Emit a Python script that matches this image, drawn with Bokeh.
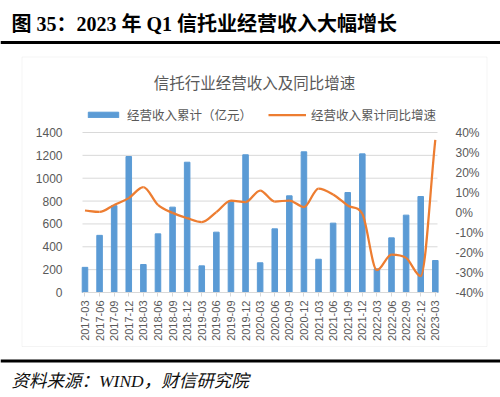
from math import pi
from bokeh.plotting import figure
from bokeh.models import (Range1d, LinearAxis, FixedTicker, PrintfTickFormatter, Label,
                          BoxAnnotation, Legend, LegendItem, ColumnDataSource)
from bokeh.embed import file_html
from bokeh.resources import INLINE

quarters = ["2017-03", "2017-06", "2017-09", "2017-12", "2018-03", "2018-06", "2018-09", "2018-12",
            "2019-03", "2019-06", "2019-09", "2019-12", "2020-03", "2020-06", "2020-09", "2020-12",
            "2021-03", "2021-06", "2021-09", "2021-12", "2022-03", "2022-06", "2022-09", "2022-12",
            "2023-03"]
revenue = [220, 500, 760, 1190, 245, 513, 747, 1140, 233, 528, 799, 1205, 260, 557, 846, 1231,
           291, 607, 875, 1213, 207, 478, 677, 840, 280]
growth = [1.0, 0.3, 3.8, 7.2, 12.7, 3.8, -0.2, -2.8, -4.8, 0.2, 6.0, 5.2, 11.0, 5.5, 6.0, 2.7,
          12.0, 9.0, 3.5, -0.7, -28.8, -21.0, -22.7, -31.8, 36.3]
left_ticks = [0, 200, 400, 600, 800, 1000, 1200, 1400]
right_ticks = [-40, -30, -20, -10, 0, 10, 20, 30, 40]

main_title = "图 35：2023 年 Q1 信托业经营收入大幅增长"
chart_title = "信托行业经营收入及同比增速"
bar_label = "经营收入累计（亿元）"
line_label = "经营收入累计同比增速"
source_text = "资料来源：WIND，财信研究院"

BLUE = "#5B9BD5"
ORANGE = "#ED7D31"
GRID = "#D9D9D9"
TXT = "#595959"
CJK = "Noto Sans CJK SC"
SERIF = "Liberation Serif, Noto Sans CJK SC"
LAT = "Liberation Sans"

W, H = 500, 397
PL, PR, PT, PB = 82, 437, 132, 292       # plot area in canvas px
XA, XB = -0.17, 24.15                    # category range shown in plot area
YA, YB = 0, 1400
RA, RB = -40, 40


def extend(a, b, lo_px, hi_px, span_px, total_px):
    per = (b - a) / span_px
    return a - lo_px * per, b + (total_px - hi_px) * per


x_lo, x_hi = extend(XA, XB, PL, PR, PR - PL, W)
y_lo, y_hi = extend(YA, YB, H - PB, H - PT, PB - PT, H)
r_lo, r_hi = extend(RA, RB, H - PB, H - PT, PB - PT, H)


def sy(Y):
    return H - Y


n = len(quarters)
xs = list(range(n))

p = figure(width=W, height=H, x_range=Range1d(x_lo, x_hi), y_range=Range1d(y_lo, y_hi),
           output_backend="svg", toolbar_location=None, min_border=0)
p.extra_y_ranges = {"pct": Range1d(r_lo, r_hi)}
p.outline_line_color = None
p.grid.visible = False

# chart box, rules
p.add_layout(BoxAnnotation(left=21.5, right=486.5, top=sy(56.5), bottom=sy(346),
                           left_units="screen", right_units="screen", top_units="screen",
                           bottom_units="screen", fill_alpha=0, line_color=GRID, line_width=1,
                           level="underlay"))
p.add_layout(BoxAnnotation(left=0, right=W, top=sy(40.5), bottom=sy(43.5),
                           left_units="screen", right_units="screen", top_units="screen",
                           bottom_units="screen", fill_color="black", fill_alpha=1, line_color=None))
p.add_layout(BoxAnnotation(left=0, right=W, top=sy(359), bottom=sy(362),
                           left_units="screen", right_units="screen", top_units="screen",
                           bottom_units="screen", fill_color="black", fill_alpha=1, line_color=None))

# gridlines
gl = p.segment(x0=[XA] * len(left_ticks), x1=[XB] * len(left_ticks), y0=left_ticks, y1=left_ticks,
               line_color=GRID, line_width=1)
gl.level = "underlay"

bars = p.vbar(x=xs, top=revenue, width=0.38, color=BLUE)

# smoothed growth line: cubic bezier segments, Catmull-Rom tangents limited to avoid overshoot
d = [growth[i + 1] - growth[i] for i in range(n - 1)]
m = []
for i in range(n):
    if i == 0:
        mi = d[0]
    elif i == n - 1:
        mi = d[-1]
    elif d[i - 1] * d[i] <= 0:
        mi = 0.0
    else:
        mi = (growth[i + 1] - growth[i - 1]) / 2
        lim = 3 * min(abs(d[i - 1]), abs(d[i]))
        if abs(mi) > lim:
            mi = lim if mi > 0 else -lim
    m.append(mi)
x0, y0, x1, y1, cx0, cy0, cx1, cy1 = [], [], [], [], [], [], [], []
for i in range(n - 1):
    x0.append(xs[i]); y0.append(growth[i])
    x1.append(xs[i + 1]); y1.append(growth[i + 1])
    cx0.append(xs[i] + 1 / 3); cy0.append(growth[i] + m[i] / 3)
    cx1.append(xs[i + 1] - 1 / 3); cy1.append(growth[i + 1] - m[i + 1] / 3)
src = ColumnDataSource(dict(x0=x0, y0=y0, x1=x1, y1=y1, cx0=cx0, cy0=cy0, cx1=cx1, cy1=cy1))
line = p.bezier(x0="x0", y0="y0", x1="x1", y1="y1", cx0="cx0", cy0="cy0", cx1="cx1", cy1="cy1",
                source=src, y_range_name="pct", line_color=ORANGE, line_width=2.25)

# axes (fixed inside the canvas)
p.yaxis.fixed_location = XA
p.yaxis.bounds = (YA, YB)
p.yaxis.ticker = FixedTicker(ticks=left_ticks)
p.yaxis.axis_line_color = None
p.yaxis.major_tick_line_color = None
p.yaxis.minor_tick_line_color = None
p.yaxis.major_label_standoff = 14
p.yaxis.major_label_text_font = LAT
p.yaxis.major_label_text_font_size = "12px"
p.yaxis.major_label_text_color = TXT

right = LinearAxis(y_range_name="pct", ticker=FixedTicker(ticks=right_ticks),
                   formatter=PrintfTickFormatter(format="%d%%"), fixed_location=XB,
                   bounds=(RA, RB))
right.axis_line_color = None
right.major_tick_line_color = None
right.minor_tick_line_color = None
right.major_label_standoff = 12
right.major_label_text_font = LAT
right.major_label_text_font_size = "12px"
right.major_label_text_color = TXT
p.add_layout(right, "right")

p.xaxis.fixed_location = YA
p.xaxis.bounds = (XA, XB)
p.xaxis.ticker = FixedTicker(ticks=xs)
p.xaxis.major_label_overrides = {i: q for i, q in enumerate(quarters)}
p.xaxis.major_label_orientation = pi / 2
p.xaxis.axis_line_color = GRID
p.xaxis.major_tick_line_color = GRID
p.xaxis.major_tick_in = 0
p.xaxis.major_tick_out = 4
p.xaxis.minor_tick_line_color = None
p.xaxis.major_label_standoff = 4
p.xaxis.major_label_text_font = LAT
p.xaxis.major_label_text_font_size = "11px"
p.xaxis.major_label_text_color = TXT

# texts
p.add_layout(Label(x=11, y=sy(23.5), x_units="screen", y_units="screen", text=main_title,
                   text_font=SERIF, text_font_size="20px", text_font_style="bold",
                   text_color="black", text_align="left", text_baseline="middle"))
p.add_layout(Label(x=254, y=sy(81.5), x_units="screen", y_units="screen", text=chart_title,
                   text_font=CJK, text_font_size="15.5px", text_color=TXT,
                   text_align="center", text_baseline="middle"))
p.add_layout(Label(x=11, y=sy(380), x_units="screen", y_units="screen", text=source_text,
                   text_font=SERIF, text_font_size="17.5px", text_font_style="italic",
                   text_color="#111111", text_align="left", text_baseline="middle"))

legend = Legend(items=[LegendItem(label=bar_label, renderers=[bars]),
                       LegendItem(label=line_label, renderers=[line])],
                location=(84, sy(114) - 10), orientation="horizontal",
                glyph_width=38, glyph_height=7, label_standoff=5, spacing=16,
                padding=0, margin=0, border_line_color=None, background_fill_alpha=0,
                label_text_font=CJK, label_text_font_size="12.5px", label_text_color=TXT,
                label_height=20)
p.add_layout(legend, "center")

open("out.html", "w").write(file_html(p, INLINE))
